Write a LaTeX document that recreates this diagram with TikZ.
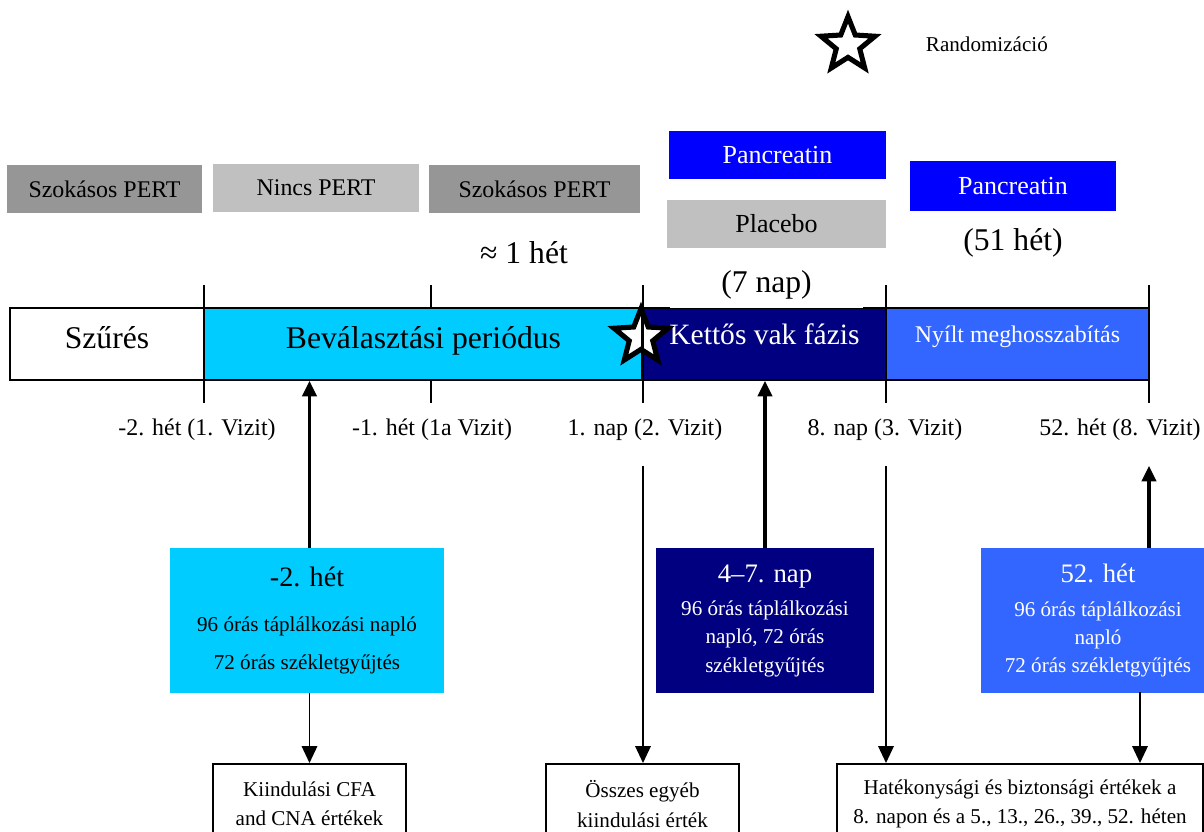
\documentclass[tikz,border=0pt]{standalone}
\usepackage{fontspec}
\setmainfont{Liberation Serif}
\usetikzlibrary{shapes.geometric,arrows.meta}

\definecolor{pertdark}{HTML}{969696}
\definecolor{pertlight}{HTML}{C0C0C0}
\definecolor{pancblue}{HTML}{0000FF}
\definecolor{bevcyan}{HTML}{00CCFF}
\definecolor{dbnavy}{HTML}{000080}
\definecolor{oleblue}{HTML}{3366FF}

\newcommand{\fsz}[2]{\fontsize{#1}{#2}\selectfont}

\tikzset{
  phasebox/.style={minimum height=1.2cm, inner sep=0pt, font=\fsz{17}{20}},
  barseg/.style={draw, line width=1.2pt, minimum height=1.8cm, inner sep=0pt,
    text height=12pt, text depth=6.3pt, font=\fsz{22.5}{27}},
  visitbox/.style={minimum height=3.6cm, inner sep=0pt, align=center},
  resultbox/.style={draw, line width=1.2pt, minimum height=2cm, inner sep=0pt,
    align=center, anchor=north, font=\fsz{15}{21}},
  ticksty/.style={line width=2pt},
  uparrow/.style={line width=2.6pt, -{Triangle[width=10pt,length=11pt]}},
  downarrow/.style={line width=1.2pt, -{Triangle[width=11pt,length=12pt]}},
  randstar/.style={star, star points=5, star point ratio=2.3, minimum size=1.42cm,
    draw, line width=3.6pt, fill=white, inner sep=0pt}
}

\begin{document}
\begin{tikzpicture}[x=0.025cm, y=-0.025cm]
  \useasboundingbox (0,0) rectangle (1204,831);
  \clip (0,0) rectangle (1204,831);

  % legend
  \node[randstar] (legstar) at (848,45) {};
  \node[font=\fsz{15}{18}, anchor=west] (legtext) at (921,44) {Randomizáció};

  % treatments above the bar
  \node[phasebox, fill=pertdark, minimum width=4.875cm] (pert1) at (104.5,189) {Szokásos PERT};
  \node[phasebox, fill=pertlight, minimum width=5.15cm] (nincs) at (316,188) {Nincs PERT};
  \node[phasebox, fill=pertdark, minimum width=5.275cm] (pert2) at (534.5,189) {Szokásos PERT};
  \node[font=\fsz{22.5}{27}] (egyhet) at (524,253) {≈ 1 hét};

  \node[phasebox, fill=pancblue, text=white, minimum width=5.425cm, font=\fsz{18.5}{22}] (panc1) at (777.5,155) {Pancreatin};
  \node[phasebox, fill=pertlight, minimum width=5.475cm, font=\fsz{18.5}{22}] (placebo) at (776.5,224) {Placebo};
  \node[phasebox, fill=pancblue, text=white, minimum width=5.15cm, minimum height=1.25cm, font=\fsz{18.5}{22}] (panc2) at (1013,186) {Pancreatin};
  \node[font=\fsz{22.5}{27}] (het51) at (1013,243) {(51 hét)};

  % the bar
  \node[barseg, fill=white, minimum width=4.85cm] (szures) at (107,344) {Szűrés};
  \node[barseg, fill=bevcyan, minimum width=10.975cm] (beval) at (423.5,344) {Beválasztási periódus};
  \node[barseg, fill=dbnavy, text=white, minimum width=6.075cm, font=\fsz{21}{25},
    text height=10pt, text depth=8.6pt] (kettos) at (764.5,344) {Kettős vak fázis};
  \node[barseg, fill=oleblue, text=white, minimum width=6.575cm, font=\fsz{17}{20},
    text height=6pt, text depth=8.85pt] (nyilt) at (1017.5,344) {Nyílt meghosszabítás};

  \node[randstar] (rstar) at (641,337) {};

  \foreach \x [count=\i] in {204,431,643,886,1149} {
    \draw[ticksty] (\x,285) -- (\x,308);
    \draw[ticksty] (\x,380) -- (\x,403) coordinate (tk\i);
  }
  \draw[ticksty] (kettos.north west) -- (kettos.south west);

  \node[fill=white, minimum width=4.825cm, minimum height=1.15cm, inner sep=0pt, font=\fsz{22.5}{27}] (hetnap) at (766.5,285) {(7 nap)};

  % visits
  \node[font=\fsz{17}{20}] (lbl1) at (197,430) {-2. hét (1. Vizit)};
  \node[font=\fsz{17}{20}] (lbl2) at (432,430) {-1. hét (1a Vizit)};
  \node[font=\fsz{17}{20}] (lbl3) at (645,430) {1. nap (2. Vizit)};
  \node[font=\fsz{17}{20}] (lbl4) at (885,430) {8. nap (3. Vizit)};
  \node[font=\fsz{17}{20}] (lbl5) at (1120,430) {52. hét (8. Vizit)};

  \node[visitbox, fill=bevcyan, minimum width=6.85cm, font=\fsz{15}{27}] (het2) at (307,620.5)
    {{\fsz{20}{24}-2. hét}\\[5pt]96 órás táplálkozási napló\\72 órás székletgyűjtés};
  \node[visitbox, fill=dbnavy, text=white, minimum width=5.46cm, font=\fsz{15}{20}] (nap47) at (765,620.5)
    {{\fsz{19}{23}4–7. nap}\\[4pt]96 órás táplálkozási\\napló, 72 órás\\székletgyűjtés};
  \node[visitbox, fill=oleblue, text=white, minimum width=5.85cm, font=\fsz{15}{20}] (het52) at (1098,620.5)
    {{\fsz{19}{23}52. hét}\\[4pt]96 órás táplálkozási\\napló\\72 órás székletgyűjtés};

  \node[resultbox, minimum width=4.825cm] (kiind) at (309.5,763) {Kiindulási CFA\\and CNA értékek};
  \node[resultbox, minimum width=4.825cm] (osszes) at (642.5,763) {Összes egyéb\\kiindulási érték};
  \node[resultbox, minimum width=9.15cm] (hatek) at (1020,763) {Hatékonysági és biztonsági értékek a\\8. napon és a 5., 13., 26., 39., 52. héten};

  \coordinate (out52) at (1140,692);

  % arrows
  \draw[uparrow] (het2.north -| kiind.north) -- (kiind.north |- beval.south);
  \draw[uparrow] (nap47.north) -- (nap47.north |- kettos.south);
  \draw[uparrow] (het52.north -| tk5) -- ([yshift=-0.5cm]tk5 |- lbl5.south);

  \draw[downarrow] (het2.south -| kiind.north) -- (kiind.north);
  \draw[downarrow] ([yshift=-0.5cm]tk3 |- lbl3.south) -- (osszes.north -| tk3);
  \draw[downarrow] ([yshift=-0.5cm]tk4 |- lbl4.south) -- (hatek.north -| tk4);
  \draw[downarrow] (out52) -- (hatek.north -| out52);
\end{tikzpicture}
\end{document}
